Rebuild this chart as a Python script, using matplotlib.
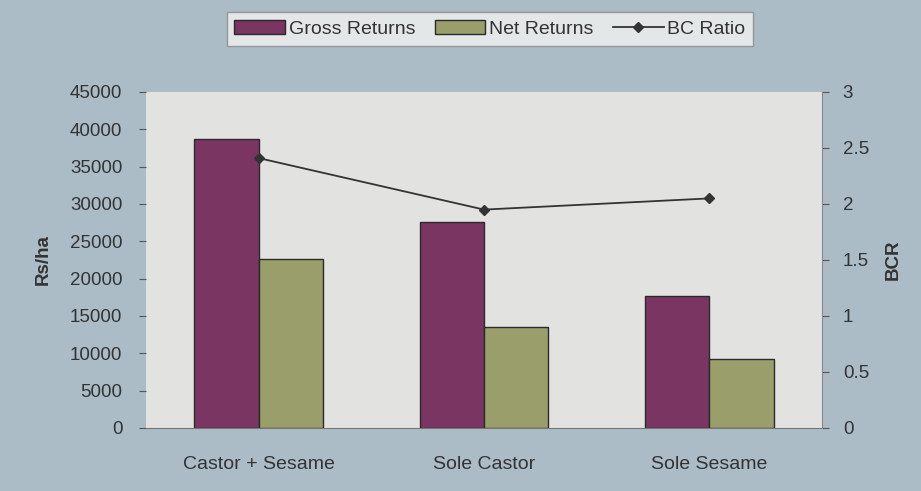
import matplotlib
matplotlib.use("Agg")
import matplotlib.pyplot as plt
import numpy as np

plt.rcParams['font.family'] = ['Liberation Sans', 'DejaVu Sans']

categories = ["Castor + Sesame", "Sole Castor", "Sole Sesame"]
gross_returns = [38700, 27600, 17700]
net_returns = [22600, 13500, 9300]
bc_ratio = [2.41, 1.95, 2.05]
left_ticks = [0, 5000, 10000, 15000, 20000, 25000, 30000, 35000, 40000, 45000]
right_ticks = [0, 0.5, 1, 1.5, 2, 2.5, 3]

fig = plt.figure(figsize=(9.21, 4.91), dpi=100)
fig.patch.set_facecolor('#abbcc7')
ax = fig.add_axes([146/921, 63/491, 676/921, 336/491])
ax.set_facecolor('#e2e3e1')

x = np.arange(len(categories))
w = 0.285
ax.bar(x - w/2, gross_returns, w, color='#7b3563', edgecolor='#2a2a2a', linewidth=1.0, label='Gross Returns')
ax.bar(x + w/2, net_returns, w, color='#9a9e6b', edgecolor='#2a2a2a', linewidth=1.0, label='Net Returns')
ax.set_xlim(-0.5, 2.5)
ax.set_ylim(0, 45000)
ax.set_yticks(left_ticks)
ax.set_xticks(x)
ax.set_xticklabels(categories)
ax.tick_params(axis='y', labelsize=13.5, colors='#555555', labelcolor='#333333', length=5, pad=12)
ax.tick_params(axis='x', labelsize=14, labelcolor='#333333', length=0, pad=20)
for s in ['top', 'right', 'left']:
    ax.spines[s].set_visible(False)
ax.spines['bottom'].set_color('#777777')
ax.set_ylabel('Rs/ha', fontsize=13.5, fontweight='bold', color='#333333', labelpad=13)

ax2 = ax.twinx()
ax2.plot(x, bc_ratio, color='#333333', linewidth=1.3, marker='D', markersize=5,
         markerfacecolor='#333333', label='BC Ratio')
ax2.set_ylim(0, 3)
ax2.set_yticks(right_ticks)
ax2.set_yticklabels(['0', '0.5', '1', '1.5', '2', '2.5', '3'])
ax2.tick_params(axis='y', labelsize=13.5, colors='#555555', labelcolor='#333333', length=5, pad=10)
for s in ['top', 'left', 'bottom']:
    ax2.spines[s].set_visible(False)
ax2.spines['right'].set_color('#888888')
ax2.set_ylabel('BCR', fontsize=13.5, fontweight='bold', color='#333333', labelpad=11)

h1, l1 = ax.get_legend_handles_labels()
h2, l2 = ax2.get_legend_handles_labels()
leg = fig.legend(h1 + h2, l1 + l2, loc='center', bbox_to_anchor=(490/921, 1 - 29/491),
                 ncol=3, fontsize=14, frameon=True, fancybox=False, handlelength=2.6,
                 handletextpad=0.2, columnspacing=1.0, borderpad=0.4)
leg.get_frame().set_facecolor('#f2f2f0')
leg.get_frame().set_edgecolor('#888888')
for t in leg.get_texts():
    t.set_color('#333333')

fig.savefig('out.png', dpi=100, facecolor=fig.get_facecolor())
